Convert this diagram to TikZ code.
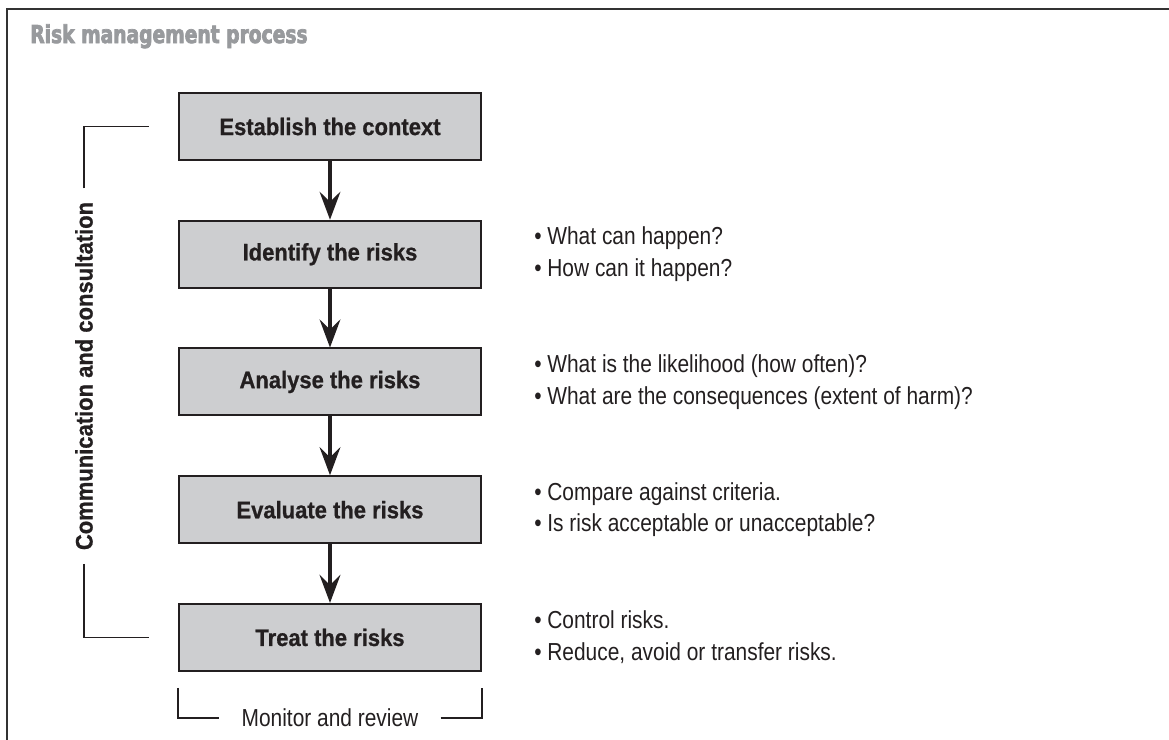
\documentclass[tikz,border=0pt]{standalone}
\usepackage{fontspec}
\setmainfont{Liberation Sans}[FakeStretch=0.92, BoldFeatures={FakeBold=0.8}]
\newfontfamily\notefont{Liberation Sans}[FakeStretch=0.85]
\newfontfamily\headfont{DejaVu Sans}[FakeStretch=0.76, BoldFeatures={FakeBold=3}]
\usetikzlibrary{positioning, arrows.meta}
\definecolor{boxgray}{HTML}{CDCED0}
\definecolor{inkdark}{HTML}{231F20}
\definecolor{titlegray}{HTML}{989A9D}

\begin{document}
\begin{tikzpicture}[
        stage/.style={rectangle, draw=inkdark, line width=1.4pt, fill=boxgray, minimum width=7.55cm, minimum height=1.675cm, font=\fontsize{17}{20}\selectfont\bfseries, text=inkdark},
        flow/.style={draw=inkdark, line width=2.4pt, -{Stealth[length=0.7cm, width=0.52cm, inset=0.25cm]}},
        bracket/.style={draw=inkdark, line width=1.3pt},
        notes/.style={anchor=west, inner sep=0pt, align=left, font=\notefont\fontsize{17.5}{22.5}\selectfont, text=inkdark},
        node distance=1.469cm
    ]
        \useasboundingbox (0,0) rectangle (29.225,-18.5);

        % Outer frame and heading
        \draw[line width=1.4pt, draw=black!80] (0.175,-18.5) -- (0.175,-0.225) -- (29.225,-0.225);
        \node[font=\headfont\bfseries\fontsize{17.5}{20}\selectfont, text=titlegray, anchor=base west, inner sep=0pt] (title) at (0.75,-1.075) {Risk management process};

        % Process steps
        \node[stage] (context) at (8.25,-3.163) {Establish the context};
        \node[stage, below=of context] (identify) {Identify the risks};
        \node[stage, below=of identify] (analyse) {Analyse the risks};
        \node[stage, below=of analyse] (evaluate) {Evaluate the risks};
        \node[stage, below=of evaluate] (treat) {Treat the risks};

        \foreach \a/\b in {context/identify, identify/analyse, analyse/evaluate, evaluate/treat} {
            \draw[flow] (\a) -- (\b);
        }

        % Questions beside each step
        \node[notes] (identifyNotes) at ([xshift=1.3cm]identify.east) {\textbullet\ What can happen?\\ \textbullet\ How can it happen?};
        \node[notes] (analyseNotes) at ([xshift=1.3cm]analyse.east) {\textbullet\ What is the likelihood (how often)?\\ \textbullet\ What are the consequences (extent of harm)?};
        \node[notes] (evaluateNotes) at ([xshift=1.3cm]evaluate.east) {\textbullet\ Compare against criteria.\\ \textbullet\ Is risk acceptable or unacceptable?};
        \node[notes] (treatNotes) at ([xshift=1.3cm]treat.east) {\textbullet\ Control risks.\\ \textbullet\ Reduce, avoid or transfer risks.};

        % Communication bracket (left)
        \node[rotate=90, inner xsep=0.335cm, inner ysep=0pt, font=\fontsize{17}{20}\selectfont\bfseries, text=inkdark] (comm) at (2.1,-9.4) {Communication and consultation};
        \draw[bracket] (comm.east) |- ([xshift=-0.725cm]context.west);
        \draw[bracket] (comm.west) |- ([xshift=-0.725cm]treat.west);

        % Monitor bracket (bottom)
        \node[inner xsep=0.55cm, font=\notefont\fontsize{17.5}{20}\selectfont, text=inkdark] (monitor) at ([yshift=-1.15cm]treat.south) {Monitor and review};
        \draw[bracket] ([yshift=-0.4cm]treat.south west) |- (monitor.west);
        \draw[bracket] (monitor.east) -| ([yshift=-0.4cm]treat.south east);

    \end{tikzpicture}
\end{document}
